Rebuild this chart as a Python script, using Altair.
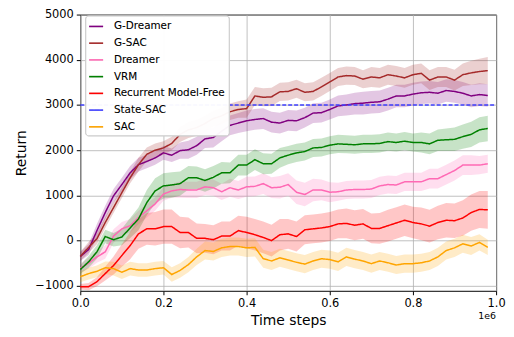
import altair as alt
import pandas as pd

# x grid of evaluation points (in units of 1e6 time steps)
steps = [round(i * 0.02, 2) for i in range(50)]

series_names = ["G-Dreamer", "G-SAC", "Dreamer", "VRM",
                "Recurrent Model-Free", "State-SAC", "SAC"]
series_colors = ["#800080", "#a52a2a", "#ff69b4", "#008000",
                 "#ff0000", "#4040ff", "#ffa500"]
series_dash = [[1, 0], [1, 0], [1, 0], [1, 0], [1, 0], [4, 2], [1, 0]]

g_dreamer = [-350, -200, 220, 620, 990, 1240, 1500, 1680, 1750, 1830,
             1940, 1890, 1990, 2010, 2100, 2250, 2280, 2420, 2550, 2600,
             2650, 2680, 2700, 2620, 2600, 2660, 2650, 2720, 2820, 2830,
             2900, 2980, 3000, 3030, 3040, 3060, 3070, 3130, 3200, 3200,
             3240, 3270, 3280, 3260, 3320, 3300, 3260, 3200, 3230, 3210]
g_dreamer_sd = [100, 120, 150, 150, 150, 150, 150, 150, 150, 150,
                150, 150, 180, 200, 200, 200, 220, 220, 220, 220,
                230, 230, 230, 230, 230, 230, 230, 220, 220, 220,
                220, 230, 230, 240, 250, 250, 250, 250, 250, 250,
                250, 250, 250, 250, 250, 250, 250, 250, 250, 250]

g_sac = [-350, -150, 40, 400, 730, 1060, 1390, 1680, 1910, 2000,
         2050, 2150, 2350, 2450, 2500, 2590, 2700, 2760, 2850, 2900,
         2920, 3200, 3170, 3180, 3290, 3300, 3360, 3280, 3300, 3400,
         3510, 3620, 3650, 3640, 3570, 3620, 3600, 3670, 3640, 3600,
         3670, 3700, 3550, 3620, 3620, 3550, 3670, 3710, 3740, 3760]
g_sac_sd = [100, 120, 120, 120, 120, 120, 120, 150, 150, 150,
            150, 150, 170, 180, 180, 180, 180, 180, 180, 180,
            200, 200, 200, 200, 200, 200, 200, 200, 200, 200,
            200, 200, 200, 200, 200, 220, 220, 220, 220, 220,
            220, 220, 220, 220, 220, 230, 250, 270, 280, 300]

dreamer = [-610, -500, -360, -250, 100, 260, 330, 510, 660, 810,
           1030, 1100, 1130, 1120, 1120, 1190, 1170, 1080, 1170, 1120,
           1190, 1200, 1260, 1170, 1180, 1240, 1070, 1020, 1120, 1120,
           1070, 1080, 1120, 1130, 1130, 1140, 1210, 1240, 1230, 1300,
           1300, 1300, 1370, 1370, 1460, 1550, 1670, 1670, 1670, 1700]
dreamer_sd = [100, 120, 130, 150, 150, 150, 150, 150, 150, 150,
              150, 150, 180, 180, 180, 180, 180, 180, 200, 200,
              220, 220, 230, 230, 250, 250, 260, 260, 250, 230,
              220, 200, 200, 200, 200, 200, 200, 200, 200, 200,
              200, 200, 220, 220, 220, 220, 220, 220, 200, 200]

vrm = [-640, -470, -250, 90, 20, 80, 280, 480, 840, 1100,
       1210, 1230, 1260, 1390, 1390, 1330, 1400, 1500, 1500, 1670,
       1670, 1790, 1700, 1700, 1830, 1890, 1940, 1970, 2050, 2060,
       2110, 2140, 2130, 2120, 2140, 2140, 2150, 2190, 2170, 2200,
       2170, 2170, 2140, 2220, 2230, 2240, 2300, 2350, 2450, 2480]
vrm_sd = [100, 130, 150, 150, 150, 180, 220, 250, 280, 280,
          280, 280, 270, 260, 250, 250, 250, 240, 230, 230,
          230, 230, 230, 220, 220, 200, 200, 200, 200, 200,
          200, 200, 200, 200, 200, 200, 200, 200, 200, 200,
          200, 220, 230, 240, 250, 260, 270, 280, 280, 280]

recurrent_mf = [-1020, -1020, -910, -730, -550, -330, -110, 150, 260, 260,
                310, 310, 180, 180, 50, 50, 20, 100, 100, 220,
                180, 130, 70, 0, 130, 150, 90, 240, 260, 280,
                310, 370, 380, 340, 370, 270, 270, 330, 390, 450,
                400, 370, 320, 400, 450, 440, 500, 620, 690, 680]
recurrent_mf_sd = [60, 80, 100, 150, 200, 250, 300, 330, 350, 370,
                   380, 380, 350, 330, 330, 320, 320, 320, 320, 330,
                   350, 350, 350, 350, 350, 330, 330, 320, 320, 320,
                   320, 320, 330, 330, 330, 330, 340, 350, 350, 350,
                   350, 360, 360, 370, 380, 380, 390, 400, 410, 420]

sac = [-800, -730, -680, -600, -620, -700, -620, -650, -650, -620,
       -600, -750, -660, -530, -360, -220, -240, -160, -130, -130,
       -160, -150, -400, -450, -380, -430, -480, -520, -450, -400,
       -420, -470, -360, -410, -450, -510, -450, -490, -540, -510,
       -510, -490, -450, -360, -220, -160, -70, -120, -40, -150]
sac_sd = [120, 130, 130, 140, 150, 150, 150, 150, 150, 150,
          150, 160, 160, 170, 180, 200, 200, 200, 200, 200,
          200, 200, 200, 200, 200, 200, 200, 200, 200, 200,
          200, 200, 200, 200, 200, 200, 200, 200, 200, 200,
          200, 200, 200, 200, 200, 200, 200, 200, 180, 170]

state_sac_x = [0.0, 1.0]
state_sac_y = [3000, 3000]

x_ticks = [0.0, 0.2, 0.4, 0.6, 0.8, 1.0]
y_ticks = [-1000, 0, 1000, 2000, 3000, 4000, 5000]

# ---------- build tables ----------
curves = [("G-Dreamer", g_dreamer, g_dreamer_sd),
          ("G-SAC", g_sac, g_sac_sd),
          ("Dreamer", dreamer, dreamer_sd),
          ("VRM", vrm, vrm_sd),
          ("Recurrent Model-Free", recurrent_mf, recurrent_mf_sd),
          ("SAC", sac, sac_sd)]
rows = []
for name, mean, sd in curves:
    for x, m, s in zip(steps, mean, sd):
        rows.append({"series": name, "x": x, "y": m, "lo": m - s, "hi": m + s})
band_df = pd.DataFrame(rows)

line_rows = list(rows)
for x, y in zip(state_sac_x, state_sac_y):
    line_rows.append({"series": "State-SAC", "x": x, "y": y, "lo": y, "hi": y})
line_df = pd.DataFrame(line_rows)

W, H = 420, 279
FONT = "DejaVu Sans"

xs = alt.Scale(domain=[0, 1.0], nice=False, zero=False)
ys = alt.Scale(domain=[-1110, 5000], nice=False, zero=False)
cscale = alt.Scale(domain=series_names, range=series_colors)
dscale = alt.Scale(domain=series_names, range=series_dash)

x_axis = alt.Axis(values=x_ticks, format=".1f", title="Time steps", labelFlush=False)
y_axis = alt.Axis(values=y_ticks, format="d", title="Return", labelFlush=False)

bands = alt.Chart(band_df).mark_area(opacity=0.22).encode(
    x=alt.X("x:Q", scale=xs, axis=x_axis),
    y=alt.Y("lo:Q", scale=ys, axis=y_axis),
    y2="hi:Q",
    color=alt.Color("series:N", scale=cscale, legend=None),
)

leg = alt.Legend(title=None, orient="none", legendX=5, legendY=1)
lines = alt.Chart(line_df).mark_line(strokeWidth=1.5).encode(
    x=alt.X("x:Q", scale=xs),
    y=alt.Y("y:Q", scale=ys),
    color=alt.Color("series:N", scale=cscale, sort=series_names, legend=leg),
    strokeDash=alt.StrokeDash("series:N", scale=dscale, sort=series_names, legend=leg),
    order=alt.Order("x:Q"),
)

offset_label = alt.Chart(pd.DataFrame({"t": ["1e6"]})).mark_text(
    align="right", baseline="alphabetic", font=FONT, fontSize=9.5, color="black"
).encode(text="t:N", x=alt.value(W), y=alt.value(H + 28))

chart = alt.layer(bands, lines, offset_label).resolve_scale(
    color="independent"
).properties(
    width=W, height=H,
    autosize=alt.AutoSizeParams(type="none"),
    padding={"left": 73, "top": 5, "right": 10, "bottom": 40},
).configure_view(
    stroke="black", strokeWidth=1
).configure_axis(
    domain=False,
    grid=True, gridColor="#b0b0b0", gridWidth=0.8,
    ticks=True, tickColor="black", tickSize=4, tickWidth=1,
    labelFont=FONT, labelFontSize=11.5, labelColor="black", labelPadding=3,
    titleFont=FONT, titleFontSize=14, titleFontWeight="normal", titleColor="black",
).configure_axisX(
    titlePadding=5,
).configure_axisY(
    titlePadding=6,
).configure_legend(
    labelFont=FONT, labelFontSize=10.5, labelColor="black",
    symbolType="stroke", symbolSize=200, symbolStrokeWidth=1.6,
    rowPadding=2.9, labelOffset=10, padding=3,
    fillColor="rgba(255,255,255,0.8)", strokeColor="#cccccc",
    cornerRadius=3,
)

chart.save("out.html", embed_options={"renderer": "svg", "actions": False})
